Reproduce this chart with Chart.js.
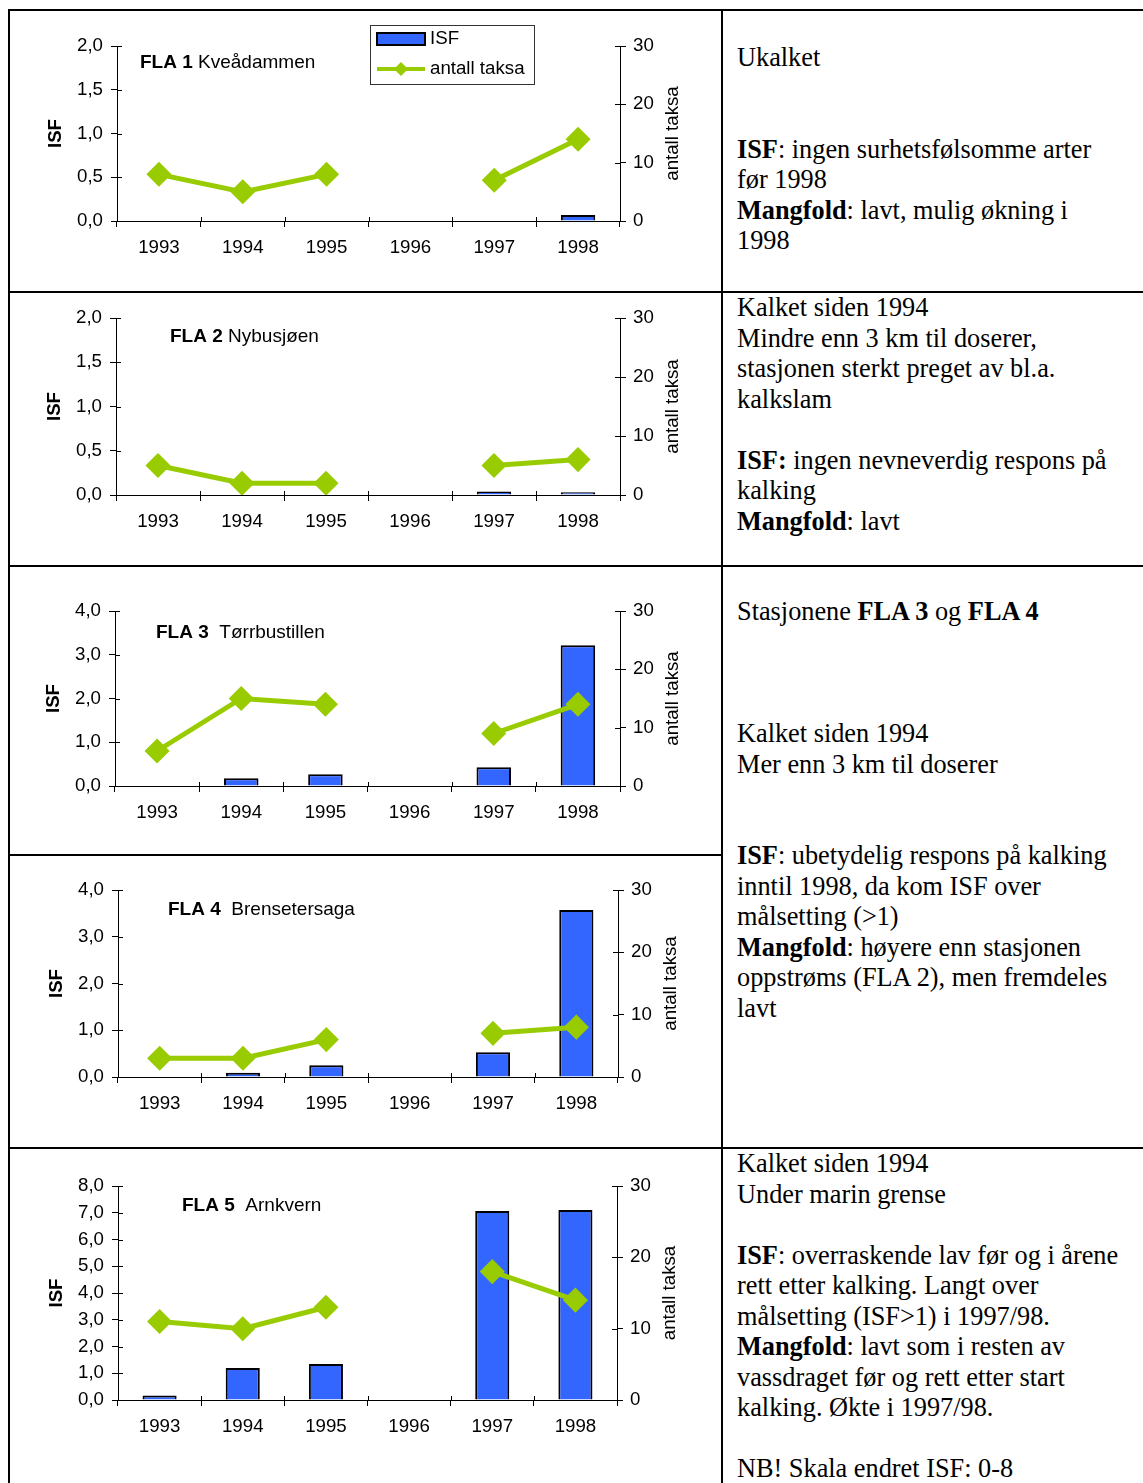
<!DOCTYPE html>
<html><head><meta charset="utf-8">
<script src="https://cdn.jsdelivr.net/npm/chart.js@4.4.1/dist/chart.umd.min.js"></script>
<style>
html,body{margin:0;padding:0;background:#fff;}
body{width:1143px;height:1483px;position:relative;overflow:hidden;}
.ln{position:absolute;background:#000;}
canvas{position:absolute;}
.txt{position:absolute;left:737px;font-family:'Liberation Serif','Times New Roman',serif;font-size:26.3px;line-height:30.5px;white-space:nowrap;color:#000;}
</style></head><body>

<div class="ln" style="left:8px;top:9px;width:1135px;height:2px"></div>
<div class="ln" style="left:8px;top:9px;width:2px;height:1474px"></div>
<div class="ln" style="left:721px;top:9px;width:2px;height:1474px"></div>
<div class="ln" style="left:8px;top:291px;width:1135px;height:2px"></div>
<div class="ln" style="left:8px;top:565px;width:1135px;height:2px"></div>
<div class="ln" style="left:8px;top:854px;width:714px;height:2px"></div>
<div class="ln" style="left:8px;top:1147px;width:1135px;height:2px"></div>

<div class="txt" style="top:43px">Ukalket<br><br><br><b>ISF</b>: ingen surhetsfølsomme arter<br>før 1998<br><b>Mangfold</b>: lavt, mulig økning i<br>1998</div>
<div class="txt" style="top:293px">Kalket siden 1994<br>Mindre enn 3 km til doserer,<br>stasjonen sterkt preget av bl.a.<br>kalkslam<br><br><b>ISF:</b> ingen nevneverdig respons på<br>kalking<br><b>Mangfold</b>: lavt</div>
<div class="txt" style="top:597px">Stasjonene <b>FLA 3</b> og <b>FLA 4</b><br><br><br><br>Kalket siden 1994<br>Mer enn 3 km til doserer<br><br><br><b>ISF</b>: ubetydelig respons på kalking<br>inntil 1998, da kom ISF over<br>målsetting (&gt;1)<br><b>Mangfold</b>: høyere enn stasjonen<br>oppstrøms (FLA 2), men fremdeles<br>lavt</div>
<div class="txt" style="top:1149px">Kalket siden 1994<br>Under marin grense<br><br><b>ISF</b>: overraskende lav før og i årene<br>rett etter kalking. Langt over<br>målsetting (ISF&gt;1) i 1997/98.<br><b>Mangfold</b>: lavt som i resten av<br>vassdraget før og rett etter start<br>kalking. Økte i 1997/98.<br><br>NB! Skala endret ISF: 0-8</div>

<script>
// ---------- DATA ----------
const years = ['1993', '1994', '1995', '1996', '1997', '1998'];

const stationCodes = ['FLA 1', 'FLA 2', 'FLA 3', 'FLA 4', 'FLA 5'];
const stationNames = ['Kveådammen', 'Nybusjøen', 'Tørrbustillen', 'Brensetersaga', 'Arnkvern'];

const isf1 = [null, null, null, null, null, 0.07];
const isf2 = [null, null, null, null, 0.04, 0.03];
const isf3 = [null, 0.18, 0.27, null, 0.43, 3.22];
const isf4 = [null, 0.09, 0.25, null, 0.53, 3.57];
const isf5 = [0.17, 1.2, 1.35, null, 7.07, 7.1];

const taksa1 = [8, 5, 8, null, 7, 14];
const taksa2 = [5, 2, 2, null, 5, 6];
const taksa3 = [6, 15, 14, null, 9, 14];
const taksa4 = [3, 3, 6, null, 7, 8];
const taksa5 = [11, 10, 13, null, 18, 14];

const isfMax = [2, 2, 4, 4, 8];
const isfStep = [0.5, 0.5, 1, 1, 1];
const taksaMax = 30;
const taksaStep = 10;

const isfLabel = 'ISF';
const taksaLabel = 'antall taksa';

// ---------- LAYOUT / STYLE ----------
const isfAll = [isf1, isf2, isf3, isf4, isf5];
const taksaAll = [taksa1, taksa2, taksa3, taksa4, taksa5];
const layouts = [
  {L:117, R:620, T:46,   B:221,  cellTop:11,   tdx:23, tdy:17, gap:' '},
  {L:116, R:620, T:318,  B:495,  cellTop:293,  tdx:54, tdy:19, gap:' '},
  {L:115, R:620, T:611,  B:786,  cellTop:567,  tdx:41, tdy:22, gap:'  '},
  {L:118, R:618, T:890,  B:1077, cellTop:856,  tdx:50, tdy:20, gap:'  '},
  {L:118, R:617, T:1186, B:1400, cellTop:1149, tdx:64, tdy:20, gap:'  '}
];
const BLUE = '#3366FF', GREEN = '#99CC00';
const FONT = '"Liberation Sans", Arial, sans-serif';
const FS = 18.7;
const FST = 19;

const decor = {
  id: 'decor',
  afterDraw(chart, args, o) {
    const {ctx, chartArea: a, scales: {x, y, y2}} = chart;
    ctx.save();
    ctx.strokeStyle = '#000'; ctx.lineWidth = 1;
    ctx.beginPath();
    y.ticks.forEach((t, i) => { const p = Math.round(y.getPixelForTick(i)) + 0.5; ctx.moveTo(a.left, p); ctx.lineTo(a.left + 5, p); });
    y2.ticks.forEach((t, i) => { const p = Math.round(y2.getPixelForTick(i)) + 0.5; ctx.moveTo(a.right - 5, p); ctx.lineTo(a.right, p); });
    const n = x.ticks.length, w = (x.right - x.left) / n;
    for (let i = 0; i <= n; i++) { const p = Math.round(x.left + i * w) + 0.5; ctx.moveTo(p, a.bottom - 4); ctx.lineTo(p, a.bottom); }
    ctx.stroke();

    ctx.fillStyle = '#000';
    ctx.textBaseline = 'middle';
    const cy = (a.top + a.bottom) / 2;
    // axis titles
    ctx.textAlign = 'center';
    ctx.save(); ctx.translate(a.left - 61, cy); ctx.rotate(-Math.PI / 2);
    ctx.font = 'bold ' + FS + 'px ' + FONT; ctx.fillText(isfLabel, 0, 0); ctx.restore();
    ctx.save(); ctx.translate(a.right + 53, cy); ctx.rotate(-Math.PI / 2);
    ctx.font = FS + 'px ' + FONT; ctx.fillText(taksaLabel, 0, 0); ctx.restore();
    // station title
    ctx.textAlign = 'left';
    const tx = a.left + o.tdx, ty = a.top + o.tdy;
    ctx.font = 'bold ' + FST + 'px ' + FONT;
    ctx.fillText(o.code, tx, ty);
    const bw = ctx.measureText(o.code).width;
    ctx.font = FST + 'px ' + FONT;
    ctx.fillText(o.gap + o.name, tx + bw, ty);

    // legend (only first chart)
    if (o.legend) {
      const ds = chart.data.datasets;
      const bar = ds.find(d => d.type === 'bar'), line = ds.find(d => d.type === 'line');
      const lx = 360, ly = 13, lw = 164, lh = 59;
      ctx.strokeStyle = '#333'; ctx.lineWidth = 1;
      ctx.strokeRect(lx + 0.5, ly + 0.5, lw, lh);
      ctx.fillStyle = bar.backgroundColor;
      ctx.fillRect(lx + 7, ly + 8, 48, 12);
      ctx.strokeStyle = '#000'; ctx.lineWidth = 2;
      ctx.strokeRect(lx + 7, ly + 8, 48, 12);
      ctx.strokeStyle = line.borderColor; ctx.lineWidth = 4;
      ctx.beginPath(); ctx.moveTo(lx + 7, ly + 44); ctx.lineTo(lx + 55, ly + 44); ctx.stroke();
      ctx.fillStyle = line.backgroundColor;
      ctx.beginPath(); ctx.moveTo(lx + 31, ly + 37); ctx.lineTo(lx + 38, ly + 44); ctx.lineTo(lx + 31, ly + 51); ctx.lineTo(lx + 24, ly + 44); ctx.closePath(); ctx.fill();
      ctx.fillStyle = '#000'; ctx.font = FS + 'px ' + FONT;
      ctx.fillText(bar.label, lx + 60, ly + 14);
      ctx.fillText(line.label, lx + 60, ly + 44);
    }
    ctx.restore();
  }
};

function makeChart(i) {
  const lay = layouts[i];
  const cx = 10, cw = 700, HX = 50;
  const top = lay.cellTop + 1;
  const ch = lay.B + HX - top;
  const cv = document.createElement('canvas');
  cv.width = cw; cv.height = ch;
  cv.style.left = cx + 'px'; cv.style.top = top + 'px';
  cv.style.width = cw + 'px'; cv.style.height = ch + 'px';
  document.body.appendChild(cv);
  const tickFont = {family: FONT, size: FS};
  new Chart(cv, {
    type: 'bar',
    data: {
      labels: years,
      datasets: [
        {type: 'line', label: taksaLabel, data: taksaAll[i], yAxisID: 'y2', borderColor: GREEN, backgroundColor: GREEN,
         borderWidth: 5, pointStyle: 'rectRot', pointRadius: 9, pointHoverRadius: 9, pointBorderColor: GREEN,
         spanGaps: false, tension: 0, order: 0},
        {type: 'bar', label: isfLabel, data: isfAll[i], yAxisID: 'y', backgroundColor: BLUE, borderColor: '#000',
         borderWidth: 2, barPercentage: 0.41, categoryPercentage: 1, order: 1}
      ]
    },
    options: {
      responsive: false, animation: false, devicePixelRatio: 1,
      events: [],
      layout: {padding: {top: lay.T - top, left: 0, right: 0, bottom: 0}},
      plugins: {
        legend: {display: false}, tooltip: {enabled: false},
        decor: {tdx: lay.tdx, tdy: lay.tdy, code: stationCodes[i], name: stationNames[i], gap: lay.gap, legend: i === 0}
      },
      scales: {
        x: {
          grid: {display: true, drawOnChartArea: false, drawTicks: true, tickLength: 6, color: '#000', offset: true},
          border: {display: true, color: '#000', width: 1},
          ticks: {color: '#000', font: tickFont, padding: 10, maxRotation: 0, autoSkip: false},
          afterFit: s => { s.height = HX; }
        },
        y: {
          position: 'left', min: 0, max: isfMax[i],
          ticks: {stepSize: isfStep[i], color: '#000', font: tickFont, padding: 8,
                  callback: v => Number(v).toFixed(1).replace('.', ',')},
          grid: {drawOnChartArea: false, tickLength: 6, color: '#000'},
          border: {display: true, color: '#000', width: 1},
          afterFit: s => { s.width = lay.L - cx; }
        },
        y2: {
          position: 'right', min: 0, max: taksaMax,
          ticks: {stepSize: taksaStep, color: '#000', font: tickFont, padding: 7},
          grid: {drawOnChartArea: false, tickLength: 6, color: '#000'},
          border: {display: true, color: '#000', width: 1},
          afterFit: s => { s.width = cx + cw - lay.R; }
        }
      }
    },
    plugins: [decor]
  });
}
for (let i = 0; i < 5; i++) makeChart(i);
</script>
</body></html>
